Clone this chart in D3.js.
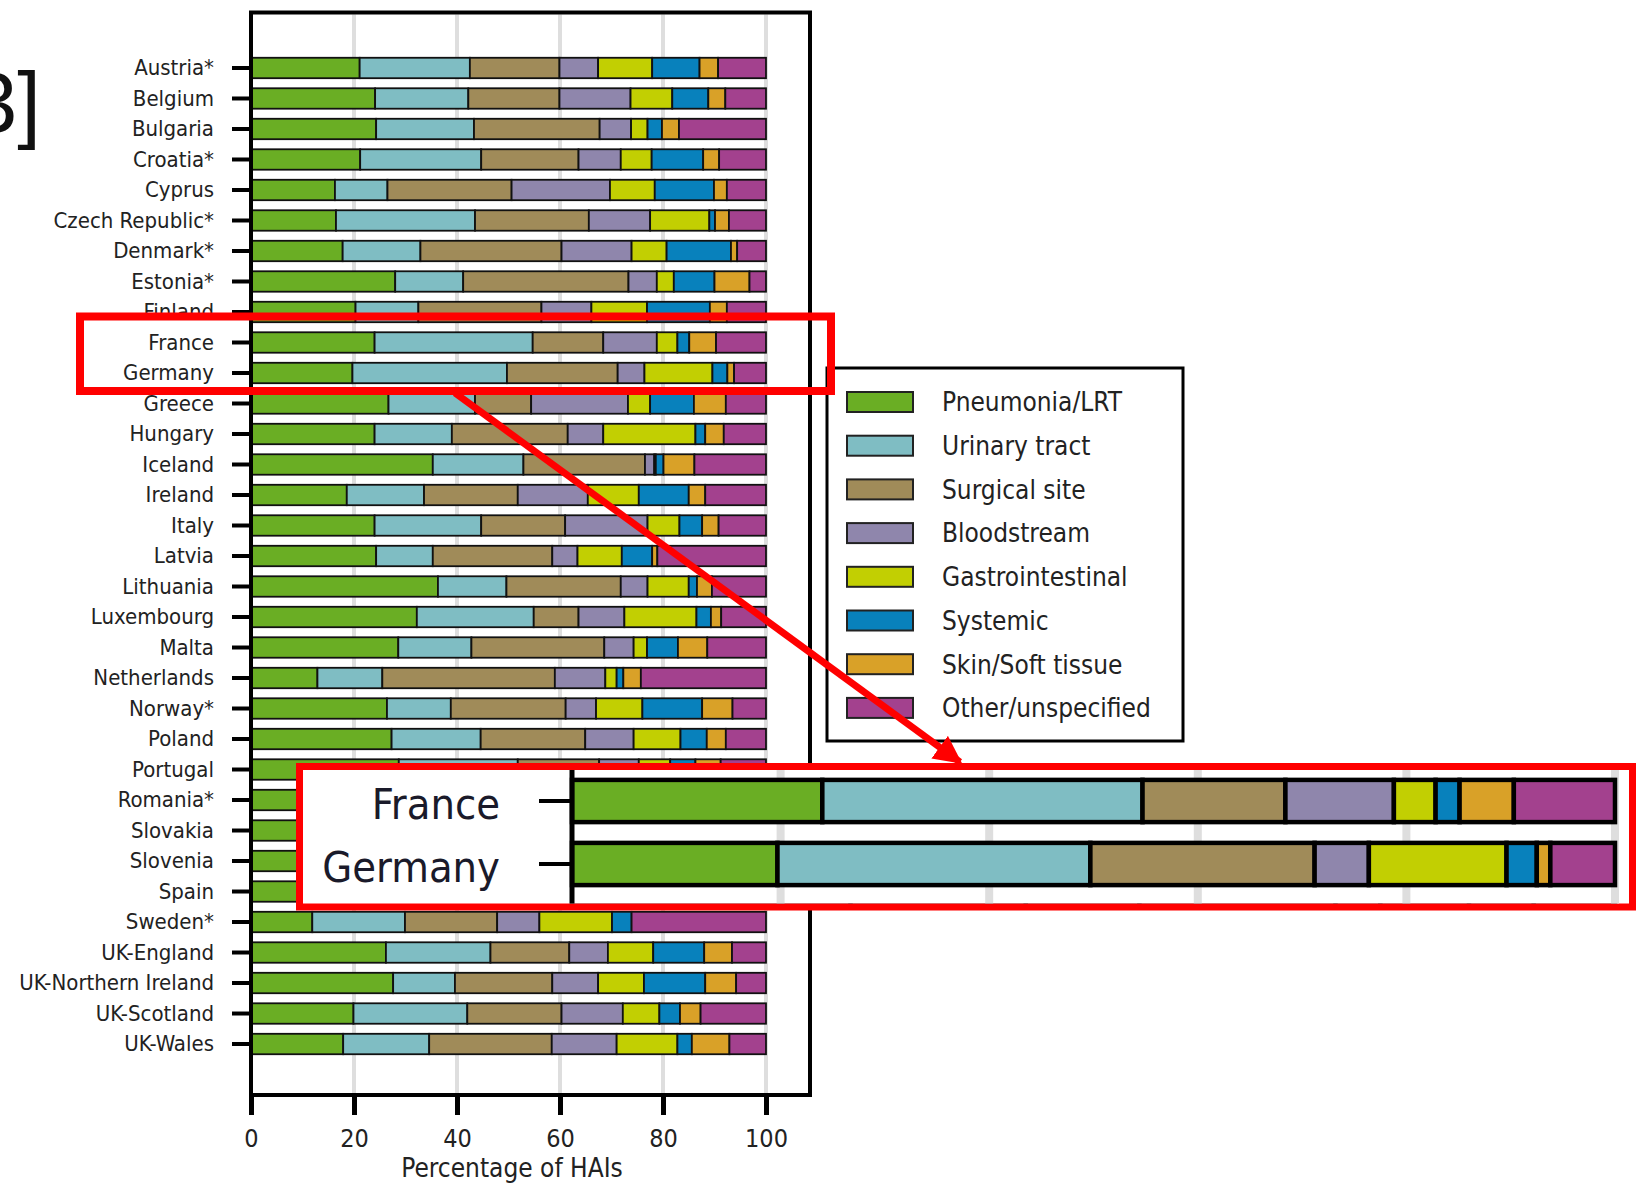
<!DOCTYPE html>
<html lang="en">
<head>
    <meta charset="UTF-8">
    <title>HAI types by country</title>
    <script src="https://d3js.org/d3.v7.min.js"></script>
    <style>
        body { margin: 0; background: white; }
        text { font-family: 'DejaVu Sans Condensed', 'DejaVu Sans', sans-serif; fill: #222; }
        .tick line { stroke: black; }
    </style>
</head>
<body>
<script>

    const width = 1640;
    const height = 1183;

    const countries = ['Austria*','Belgium','Bulgaria','Croatia*','Cyprus','Czech Republic*','Denmark*','Estonia*',
        'Finland','France','Germany','Greece','Hungary','Iceland','Ireland','Italy','Latvia','Lithuania',
        'Luxembourg','Malta','Netherlands','Norway*','Poland','Portugal','Romania*','Slovakia','Slovenia',
        'Spain','Sweden*','UK-England','UK-Northern Ireland','UK-Scotland','UK-Wales'];

    const categories = ['Pneumonia/LRT','Urinary tract','Surgical site','Bloodstream','Gastrointestinal',
        'Systemic','Skin/Soft tissue','Other/unspecified'];

    const colors = ['#6aae24','#7fbdc3','#a08b59','#8f86ac','#c2cf02','#0881bc','#d9a128','#a3418e'];

    // percentages per category, one value per country (same order as countries)
    const pneumonia   = [21.1,24.1,24.3,21.2,16.3,16.5,17.8,28.0,20.3,24.0,19.7,26.7,24.0,35.3,18.6,24.0,24.3,36.3,32.2,28.6,12.9,26.4,27.3,28.7,26,22,25,22,11.9,26.2,27.6,19.9,17.9];
    const urinary     = [21.4,18.1,19.0,23.5,10.2,27.0,15.1,13.2,12.2,30.7,30.0,16.8,15.0,17.6,15.0,20.7,11.0,13.3,22.7,14.2,12.6,12.4,17.3,23.1,12,17,18,20,18.0,20.3,12.0,22.1,16.7];
    const surgical    = [17.4,17.7,24.4,18.9,24.1,22.1,27.4,32.1,23.9,13.7,21.5,10.9,22.5,23.6,18.2,16.3,23.2,22.2,8.7,25.8,33.5,22.3,20.3,15.8,22,20,20,26,17.9,15.3,18.9,18.3,23.8];
    const bloodstream = [7.5,13.8,6.1,8.2,19.1,11.9,13.6,5.5,9.7,10.4,5.2,18.8,6.9,1.8,13.6,16.0,4.9,5.2,8.9,5.7,9.8,5.9,9.4,7.7,8,10,12,15,8.2,7.5,8.9,11.9,12.6];
    const gastro      = [10.5,8.1,3.2,6.0,8.7,11.5,6.8,3.3,10.8,4.0,13.2,4.3,17.9,0.3,9.9,6.2,8.6,8.0,14.0,2.6,2.2,9.0,9.1,6.1,14,10,6,3,14.1,8.8,8.9,7.1,11.8];
    const systemic    = [9.2,7.0,2.8,10.0,11.5,1.1,12.5,7.9,12.2,2.3,2.9,8.5,1.9,1.5,9.7,4.4,5.9,1.6,2.8,6.0,1.3,11.6,5.1,4.9,8,8,6,5,3.8,9.9,11.9,4.0,2.8];
    const skin        = [3.6,3.3,3.3,3.1,2.5,2.7,1.2,6.8,3.3,5.2,1.3,6.2,3.6,6.0,3.2,3.2,1.0,2.9,2.0,5.7,3.4,5.9,3.7,4.9,3,3,4,3,0,5.4,6.0,4.0,7.3];
    const other       = [9.3,7.9,16.9,9.1,7.6,7.2,5.6,3.2,7.6,9.7,6.2,7.8,8.2,13.9,11.8,9.2,21.1,10.5,8.7,11.4,24.3,6.5,7.8,8.8,7,10,9,6,26.1,6.6,5.8,12.7,7.1];

    const xTicks = [0,20,40,60,80,100];
    const zoomed = ['France','Germany'];

    const series = [pneumonia, urinary, surgical, bloodstream, gastro, systemic, skin, other];
    const rows = countries.map((c, i) => {
        const r = {country: c};
        categories.forEach((k, j) => r[k] = series[j][i]);
        return r;
    });
    const stacked = d3.stack().keys(categories)(rows);
    const color = d3.scaleOrdinal().domain(categories).range(colors);

    const svg = d3.select("body").append("svg").attr("width", width).attr("height", height);

    // partial reference number at the top-left edge
    svg.append("text").attr("x", 41).attr("y", 132)
        .attr("text-anchor", "end")
        .style("font-family", "'Liberation Sans', sans-serif")
        .style("font-size", "85px").style("fill", "#111")
        .text("[3]");

    // ---- main chart ----
    const x = d3.scaleLinear().domain([0, 100]).range([251, 766]);
    const y = d3.scaleBand().domain(countries).range([47.7, 1064.3]).padding(0.33);
    const frame = {left: 251, top: 12.5, right: 810, bottom: 1095};

    svg.append("g").selectAll("line")
        .data(xTicks.slice(1))
        .enter().append("line")
        .attr("x1", d => x(d)).attr("x2", d => x(d))
        .attr("y1", frame.top + 2).attr("y2", frame.bottom - 2)
        .style("stroke", "#dedede").style("stroke-width", 4);

    svg.append("g").selectAll("g")
        .data(stacked)
        .enter().append("g")
        .style("fill", d => color(d.key))
        .selectAll("rect")
        .data(d => d)
        .enter().append("rect")
        .attr("x", d => x(d[0]))
        .attr("width", d => x(d[1]) - x(d[0]))
        .attr("y", d => y(d.data.country))
        .attr("height", y.bandwidth())
        .style("stroke", "#111").style("stroke-width", 1.8);

    svg.append("rect")
        .attr("x", frame.left).attr("y", frame.top)
        .attr("width", frame.right - frame.left).attr("height", frame.bottom - frame.top)
        .style("fill", "none").style("stroke", "black").style("stroke-width", 4);

    const yAxis = svg.append("g").attr("transform", `translate(${frame.left},0)`)
        .call(d3.axisLeft(y).tickSize(19).tickPadding(18));
    yAxis.select(".domain").remove();
    yAxis.selectAll(".tick line").style("stroke-width", 4);
    yAxis.selectAll("text").style("font-size", "22px").style("fill", "#222")
        .style("font-family", "'DejaVu Sans Condensed', sans-serif");

    const xAxis = svg.append("g").attr("transform", `translate(0,${frame.bottom})`)
        .call(d3.axisBottom(x).tickValues(xTicks).tickSize(20).tickPadding(14));
    xAxis.select(".domain").remove();
    xAxis.selectAll(".tick line").style("stroke-width", 5);
    xAxis.selectAll("text").style("font-size", "25px").style("fill", "#222")
        .style("font-family", "'DejaVu Sans Condensed', sans-serif");

    svg.append("text").attr("x", 512).attr("y", 1177)
        .attr("text-anchor", "middle").style("font-size", "26px")
        .text("Percentage of HAIs");

    // ---- legend ----
    const legend = svg.append("g");
    legend.append("rect").attr("x", 827).attr("y", 368).attr("width", 356).attr("height", 373)
        .style("fill", "white").style("stroke", "black").style("stroke-width", 3);
    const item = legend.selectAll("g.item")
        .data(categories)
        .enter().append("g").attr("class", "item")
        .attr("transform", (d, i) => `translate(0,${402 + i * 43.7})`);
    item.append("rect").attr("x", 847).attr("y", -10).attr("width", 66).attr("height", 20)
        .style("fill", d => color(d)).style("stroke", "#222").style("stroke-width", 2);
    item.append("text").attr("x", 942).attr("dy", "0.36em")
        .style("font-size", "26px").text(d => d);

    // ---- highlight around France / Germany ----
    svg.append("rect").attr("x", 80).attr("y", 316.5).attr("width", 751).attr("height", 74.5)
        .style("fill", "none").style("stroke", "#ff0000").style("stroke-width", 8);

    // ---- zoomed inset ----
    const inset = svg.append("g");
    inset.append("rect").attr("x", 299.5).attr("y", 766.5).attr("width", 1333).attr("height", 140.5)
        .style("fill", "white").style("stroke", "#ff0000").style("stroke-width", 7);

    svg.append("clipPath").attr("id", "insetClip")
        .append("rect").attr("x", 303).attr("y", 770).attr("width", 1327).attr("height", 133.5);

    const xi = d3.scaleLinear().domain([0, 100]).range([572, 1615]);
    const yi = d3.scaleBand().domain(countries).range([192.1, 2291.9]).padding(0.33);
    const inner = inset.append("g").attr("clip-path", "url(#insetClip)");

    inner.selectAll("line.grid")
        .data(xTicks.slice(1))
        .enter().append("line").attr("class", "grid")
        .attr("x1", d => xi(d)).attr("x2", d => xi(d))
        .attr("y1", 770).attr("y2", 905)
        .style("stroke", "#dedede").style("stroke-width", 8);

    const near = ['Finland','France','Germany','Greece'];
    inner.selectAll("g.layer")
        .data(stacked)
        .enter().append("g").attr("class", "layer")
        .style("fill", d => color(d.key))
        .selectAll("rect")
        .data(d => d.filter(p => near.includes(p.data.country)))
        .enter().append("rect")
        .attr("x", d => xi(d[0]))
        .attr("width", d => xi(d[1]) - xi(d[0]))
        .attr("y", d => yi(d.data.country))
        .attr("height", yi.bandwidth())
        .style("stroke", "black").style("stroke-width", 4.5);

    inner.append("line").attr("x1", 572).attr("x2", 572).attr("y1", 770).attr("y2", 905)
        .style("stroke", "black").style("stroke-width", 5);

    inner.selectAll("line.tk")
        .data(zoomed)
        .enter().append("line").attr("class", "tk")
        .attr("x1", 539).attr("x2", 570)
        .attr("y1", d => yi(d) + yi.bandwidth() / 2).attr("y2", d => yi(d) + yi.bandwidth() / 2)
        .style("stroke", "black").style("stroke-width", 4);

    inner.selectAll("text")
        .data(zoomed)
        .enter().append("text")
        .attr("x", 500).attr("y", d => yi(d) + yi.bandwidth() / 2 + 3)
        .attr("dy", "0.36em").attr("text-anchor", "end")
        .style("font-size", "43px").style("fill", "#1a1a2a")
        .text(d => d);

    // ---- arrow ----
    const defs = svg.append("defs");
    defs.append("marker").attr("id", "head")
        .attr("viewBox", "0 0 10 10").attr("refX", 9).attr("refY", 5)
        .attr("markerWidth", 4).attr("markerHeight", 4).attr("orient", "auto")
        .append("path").attr("d", "M0,0 L10,5 L0,10 Z").style("fill", "#ff0000");

    svg.append("line").attr("x1", 455).attr("y1", 393).attr("x2", 960).attr("y2", 762)
        .attr("marker-end", "url(#head)")
        .style("stroke", "#ff0000").style("stroke-width", 7);

</script>
</body>
</html>
